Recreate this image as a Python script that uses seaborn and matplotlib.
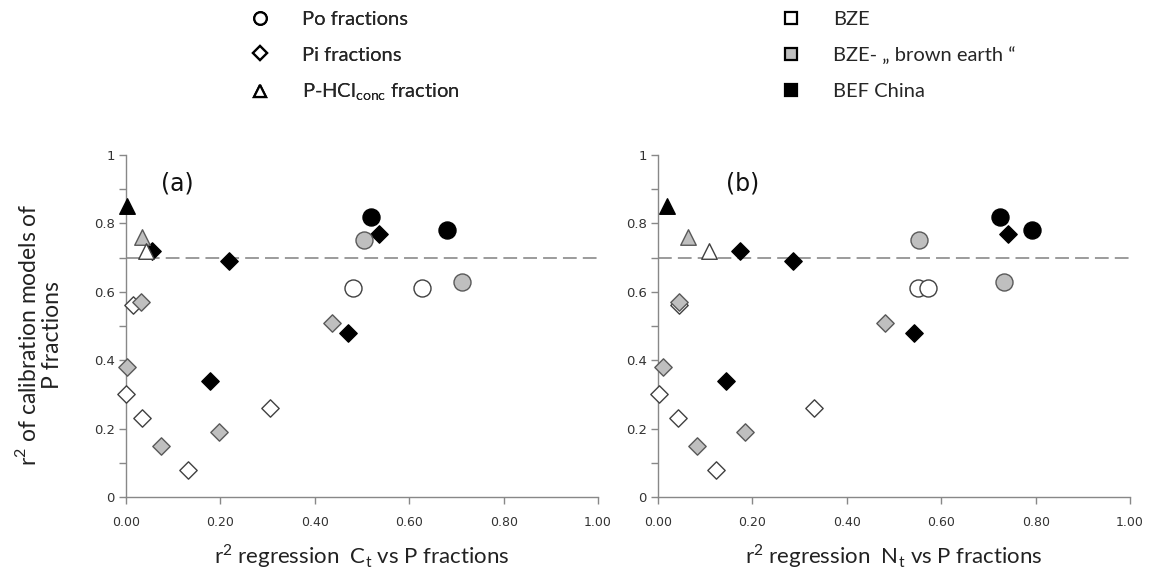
import matplotlib
matplotlib.use("Agg")
import matplotlib.pyplot as plt
import seaborn as sns
import pandas as pd
from matplotlib.lines import Line2D

# ---------------- data ----------------
fraction = ["Po"] * 6 + ["Pi"] * 15 + ["HCl"] * 3
group = (["BZE", "BZE", "BZE-brown", "BZE-brown", "BEF", "BEF"]
         + ["BZE"] * 5 + ["BZE-brown"] * 5 + ["BEF"] * 5
         + ["BZE", "BZE-brown", "BEF"])
r2_calib = [0.61, 0.61, 0.75, 0.63, 0.82, 0.78,
            0.56, 0.30, 0.26, 0.23, 0.08,
            0.57, 0.51, 0.38, 0.19, 0.15,
            0.72, 0.69, 0.77, 0.48, 0.34,
            0.72, 0.76, 0.85]
r2_ct = [0.480, 0.626, 0.505, 0.712, 0.520, 0.681,
         0.014, 0.000, 0.305, 0.033, 0.131,
         0.032, 0.437, 0.003, 0.197, 0.073,
         0.054, 0.218, 0.536, 0.471, 0.178,
         0.042, 0.033, 0.003]
r2_nt = [0.550, 0.573, 0.552, 0.733, 0.725, 0.793,
         0.044, 0.002, 0.331, 0.042, 0.123,
         0.044, 0.481, 0.010, 0.184, 0.082,
         0.174, 0.285, 0.742, 0.543, 0.143,
         0.107, 0.064, 0.018]
threshold = 0.7
ytick_vals = [0, 0.2, 0.4, 0.6, 0.8, 1.0]
ytick_labels = ["0", "0.2", "0.4", "0.6", "0.8", "1"]
xtick_vals = [0, 0.2, 0.4, 0.6, 0.8, 1.0]
xtick_labels = ["0.00", "0.20", "0.40", "0.60", "0.80", "1.00"]
legend_fraction_labels = ["Po fractions", "Pi fractions", r"P-HCl$_\mathregular{conc}$ fraction"]
legend_group_labels = ["BZE", "BZE- \u201e brown earth \u201c", "BEF China"]

df = pd.DataFrame({"fraction": fraction, "group": group, "calib": r2_calib,
                   "ct": r2_ct, "nt": r2_nt})

# ---------------- style ----------------
sns.set_theme(style="white")
calibri_like = ["Lato", "DejaVu Sans"]
plt.rcParams["font.family"] = ["DejaVu Sans"]

fills = {"BZE": "white", "BZE-brown": "#bfbfbf", "BEF": "black"}
edges = {"BZE": "#404040", "BZE-brown": "#595959", "BEF": "black"}
markers = {"Po": "o", "Pi": "D", "HCl": "^"}
sizes = {"Po": 150, "Pi": 78, "HCl": 125}
draw_order = [("Pi", ["BZE", "BZE-brown", "BEF"]),
              ("Po", ["BZE", "BZE-brown", "BEF"]),
              ("HCl", ["BEF", "BZE-brown", "BZE"])]

fig = plt.figure(figsize=(11.49, 5.77), dpi=100)
ax_w, ax_h = 0.4108, 0.5928
axA = fig.add_axes([0.1097, 0.1386, ax_w, ax_h])
axB = fig.add_axes([0.5727, 0.1386, ax_w, ax_h])

for ax, xcol, plab, lab_x in [(axA, "ct", "(a)", 0.075), (axB, "nt", "(b)", 0.145)]:
    ax.axhline(threshold, color="#808080", lw=1.1, dashes=(9, 4), zorder=1)
    for f, groups in draw_order:
        for g in groups:
            sub = df[(df.group == g) & (df.fraction == f)]
            sns.scatterplot(data=sub, x=xcol, y="calib", ax=ax, marker=markers[f],
                            color=fills[g], edgecolor=edges[g], linewidth=1.0,
                            s=sizes[f], legend=False, zorder=3, clip_on=False)
    ax.set_xlim(0, 1)
    ax.set_ylim(0, 1)
    ax.set_xticks(xtick_vals)
    ax.set_xticklabels(xtick_labels, fontsize=9, color="#333333")
    ax.set_yticks(ytick_vals)
    ax.set_yticklabels(ytick_labels, fontsize=9.5, color="#333333")
    ax.set_yticks([0.1, 0.3, 0.5, 0.7, 0.9], minor=True)
    ax.tick_params(axis="y", which="both", direction="out", length=5, width=1,
                   color="#888888", left=True, pad=3)
    ax.tick_params(axis="x", which="major", direction="out", length=5, width=1,
                   color="#888888", bottom=True, pad=9)
    for s in ["top", "right"]:
        ax.spines[s].set_visible(False)
    for s in ["left", "bottom"]:
        ax.spines[s].set_color("#888888")
        ax.spines[s].set_linewidth(1.0)
    ax.set_xlabel("")
    ax.set_ylabel("")
    ax.text(lab_x, 0.918, plab, fontsize=17, va="center", ha="left", color="#111111")
    ax.set_facecolor("white")

axA.set_xlabel(r"r$^\mathregular{2}$ regression  C$_\mathregular{t}$ vs P fractions",
               family=calibri_like, fontsize=16, labelpad=9, color="#222222")
axB.set_xlabel(r"r$^\mathregular{2}$ regression  N$_\mathregular{t}$ vs P fractions",
               family=calibri_like, fontsize=16, labelpad=9, color="#222222")

fig.text(36 / 1149, 1 - 335 / 577, r"r$^\mathregular{2}$ of calibration models of",
         rotation=90, rotation_mode="anchor", ha="center", va="baseline",
         family=calibri_like, fontsize=16.5, color="#222222")
fig.text(59 / 1149, 1 - 335 / 577, "P fractions",
         rotation=90, rotation_mode="anchor", ha="center", va="baseline",
         family=calibri_like, fontsize=16.5, color="#222222")

# ---------------- legends ----------------
h1 = [Line2D([], [], ls="", marker=m, markersize=ms, markerfacecolor="white",
             markeredgecolor="black", markeredgewidth=1.6)
      for m, ms in [("o", 9), ("D", 7.5), ("^", 9)]]
h2 = [Line2D([], [], ls="", marker="s", markersize=9, markerfacecolor=c,
             markeredgecolor="black", markeredgewidth=1.6)
      for c in ["white", "#bfbfbf", "black"]]
leg_kw = dict(loc="upper left", frameon=False, prop={"family": calibri_like, "size": 14.5},
              labelspacing=0.9, handletextpad=1.5, handlelength=1.2, borderaxespad=0.1)
leg1 = fig.legend(h1, legend_fraction_labels, bbox_to_anchor=(238 / 1149, 0.998), **leg_kw)
fig.add_artist(leg1)
leg2 = fig.legend(h2, legend_group_labels, bbox_to_anchor=(769 / 1149, 0.998), **leg_kw)

fig.savefig("out.png", dpi=100, facecolor="white")
